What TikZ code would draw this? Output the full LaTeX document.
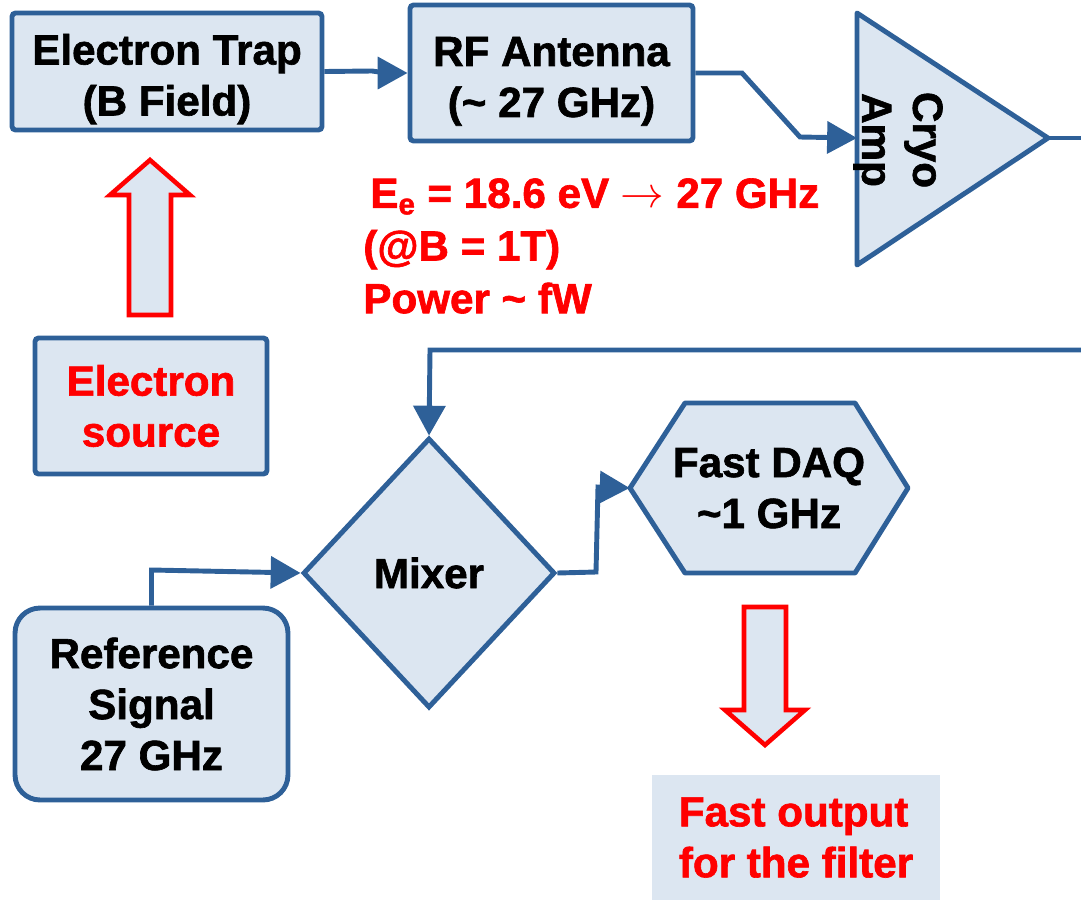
\documentclass[tikz,border=0pt]{standalone}
\usepackage{fontspec}
\setmainfont{Liberation Sans}[BoldFeatures={FakeBold=1.5}]
\usetikzlibrary{shapes.geometric,arrows.meta}
\definecolor{boxblue}{RGB}{46,96,152}
\definecolor{boxfill}{RGB}{220,230,241}
\tikzset{
  blockbox/.style={draw=boxblue, fill=boxfill, line width=2.8pt, rounded corners=2pt,
    align=center, inner sep=0pt, font=\bfseries\fontsize{24}{29}\selectfont},
  boxline/.style={draw=boxblue, fill=boxfill, line width=2.8pt, line join=round},
  wire/.style={draw=boxblue, line width=2.8pt, -{Triangle[length=17pt,width=18pt]}},
  plainwire/.style={draw=boxblue, line width=2.8pt},
  bigarrow/.style={draw=red, fill=boxfill, line width=2.6pt},
  redtext/.style={text=red, align=left, inner sep=0pt, font=\bfseries\fontsize{24}{30}\selectfont}
}
\begin{document}
\begin{tikzpicture}[x=0.02cm, y=-0.02cm]
\useasboundingbox (0,0) rectangle (1081,900);
% upper chain: trap, antenna, amplifier
\node[blockbox, minimum width=6.2cm, minimum height=2.34cm] (trap) at (167,71.5) {\rule{0pt}{26pt}Electron Trap\\(B Field)};
\node[blockbox, minimum width=5.66cm, minimum height=2.72cm] (ant) at (551.5,73) {\rule{0pt}{26pt}RF Antenna\\(\textasciitilde{} 27 GHz)};
\draw[boxline] (857,13) -- (1048,138) -- (857,265) -- cycle;
\node[rotate=-90, align=center, inner sep=0pt, font=\bfseries\fontsize{24}{29}\selectfont] (amp) at (898,140) {Cryo\\Amp};
\coordinate (ampin) at (857,138);
\coordinate (ampout) at (1048,138);
\coordinate (edgeout) at (1081,138);
\coordinate (edgeback) at (1081,350);
% red notes
\node[redtext, anchor=north west] (note) at (363,178) {\hspace*{4pt}E\textsubscript{e} = 18.6 eV $\rightarrow$ 27 GHz\\(@B = 1T)\\Power \textasciitilde{} fW};
% lower chain
\node[blockbox, text=red, minimum width=4.64cm, minimum height=2.72cm] (src) at (151,406) {Electron\\source};
\node[blockbox, diamond, rounded corners=0pt, minimum width=5.04cm, minimum height=5.4cm] (mixer) at (429,573) {Mixer};
\draw[boxline] (630,488) -- (685,403) -- (855,403) -- (908,488) -- (855,573) -- (685,573) -- cycle;
\node[align=center, inner sep=0pt, minimum width=5.56cm, minimum height=3.4cm, font=\bfseries\fontsize{24}{29}\selectfont] (daq) at (769,488) {Fast DAQ\\\textasciitilde{}1 GHz};
\node[blockbox, rounded corners=0.5cm, minimum width=5.46cm, minimum height=3.84cm] (ref) at (151.5,704) {Reference\\Signal\\27 GHz};
\node[fill=boxfill, text=red, align=left, inner sep=0pt, minimum width=5.76cm, minimum height=2.5cm, font=\bfseries\fontsize{24}{29}\selectfont] (out) at (796,837.5) {Fast output\\for the filter};
% hollow arrows
\foreach \cx/\yb/\yh/\yt in {150/315/195/160, 765/607/710/745} {
  \draw[bigarrow] (\cx-21,\yb) -- (\cx-21,\yh) -- (\cx-40,\yh) -- (\cx,\yt) -- (\cx+40,\yh) -- (\cx+21,\yh) -- (\cx+21,\yb) -- cycle;
}
% connectors
\draw[wire] (trap.east) -- (372,71) -- (386,73) -- (ant.west);
\draw[wire] (ant.east) -- (742,73) -- (800,137) -- (ampin);
\draw[plainwire] (ampout) -- (edgeout);
\draw[wire] (edgeback) -- (430,350) -- (mixer.north);
\draw[wire] (mixer.east) -- (596,572) -- (598,487) -- (daq.west);
\draw[wire] (ref.north) -- (151.5,570) -- (mixer.west);
\end{tikzpicture}
\end{document}
